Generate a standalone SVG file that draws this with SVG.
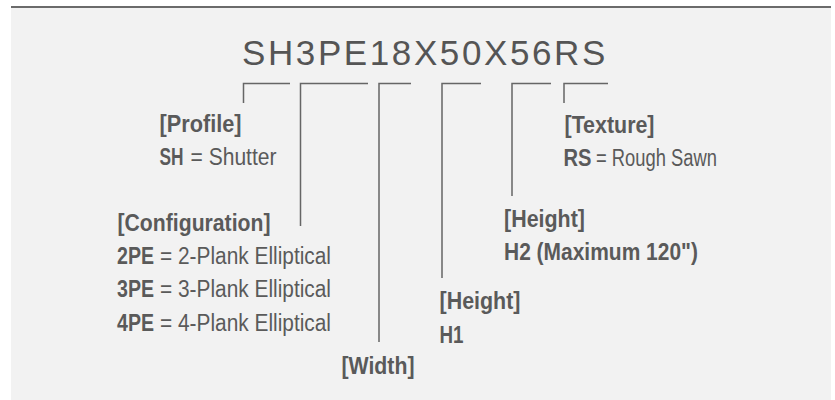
<svg xmlns="http://www.w3.org/2000/svg" width="835" height="400" viewBox="0 0 835 400">
  <style>
    .lbl { font-family: "Liberation Sans", Arial, sans-serif; font-size: 23.5px; fill: #5a5a5a; }
    .b { font-weight: bold; }
    .title { font-family: "Liberation Sans", Arial, sans-serif; font-size: 35px; fill: #555555; letter-spacing: 2.6px; }
    .conn { fill: none; stroke: #666666; stroke-width: 1.5; }
  </style>
  <rect x="0" y="0" width="835" height="400" fill="#ffffff"/>
  <rect x="11" y="7" width="820" height="393" fill="#f2f2f2"/>
  <line x1="11" y1="7" x2="831" y2="7" stroke="#6b6b6b" stroke-width="2"/>

  <g id="title">
    <text class="title" x="242" y="64.5">SH3PE18X50X56RS</text>
  </g>

  <g id="connectors">
    <polyline class="conn" points="243.5,103 243.5,83.5 290,83.5"/>
    <polyline class="conn" points="300.5,226 300.5,83.5 368,83.5"/>
    <polyline class="conn" points="379,342 379,83.5 411,83.5"/>
    <polyline class="conn" points="442,278 442,83.5 481,83.5"/>
    <polyline class="conn" points="512,196 512,83.5 551,83.5"/>
    <polyline class="conn" points="564,103 564,83.5 608,83.5"/>
  </g>

  <g id="profile">
    <text class="lbl b" x="159.5" y="132" textLength="82" lengthAdjust="spacingAndGlyphs">[Profile]</text>
    <text class="lbl b" x="159.5" y="165" textLength="24" lengthAdjust="spacingAndGlyphs">SH</text>
    <text class="lbl" x="190.5" y="165" textLength="86" lengthAdjust="spacingAndGlyphs">= Shutter</text>
  </g>

  <g id="configuration">
    <text class="lbl b" x="117.5" y="231" textLength="153" lengthAdjust="spacingAndGlyphs">[Configuration]</text>
    <text class="lbl b" x="117" y="263.5" textLength="37" lengthAdjust="spacingAndGlyphs">2PE</text>
    <text class="lbl" x="160" y="263.5" textLength="171" lengthAdjust="spacingAndGlyphs">= 2-Plank Elliptical</text>
    <text class="lbl b" x="117" y="297" textLength="37" lengthAdjust="spacingAndGlyphs">3PE</text>
    <text class="lbl" x="160" y="297" textLength="171" lengthAdjust="spacingAndGlyphs">= 3-Plank Elliptical</text>
    <text class="lbl b" x="117" y="330.5" textLength="37" lengthAdjust="spacingAndGlyphs">4PE</text>
    <text class="lbl" x="160" y="330.5" textLength="171" lengthAdjust="spacingAndGlyphs">= 4-Plank Elliptical</text>
  </g>

  <g id="width">
    <text class="lbl b" x="341.5" y="374" textLength="73" lengthAdjust="spacingAndGlyphs">[Width]</text>
  </g>

  <g id="height1">
    <text class="lbl b" x="439.5" y="309" textLength="81" lengthAdjust="spacingAndGlyphs">[Height]</text>
    <text class="lbl b" x="439.5" y="342.5" textLength="24" lengthAdjust="spacingAndGlyphs">H1</text>
  </g>

  <g id="height2">
    <text class="lbl b" x="504" y="227" textLength="81" lengthAdjust="spacingAndGlyphs">[Height]</text>
    <text class="lbl b" x="504" y="260" textLength="194" lengthAdjust="spacingAndGlyphs">H2 (Maximum 120")</text>
  </g>

  <g id="texture">
    <text class="lbl b" x="564.5" y="133" textLength="90" lengthAdjust="spacingAndGlyphs">[Texture]</text>
    <text class="lbl b" x="563.5" y="166" textLength="28" lengthAdjust="spacingAndGlyphs">RS</text>
    <text class="lbl" x="596" y="166" textLength="121" lengthAdjust="spacingAndGlyphs">= Rough Sawn</text>
  </g>
</svg>
